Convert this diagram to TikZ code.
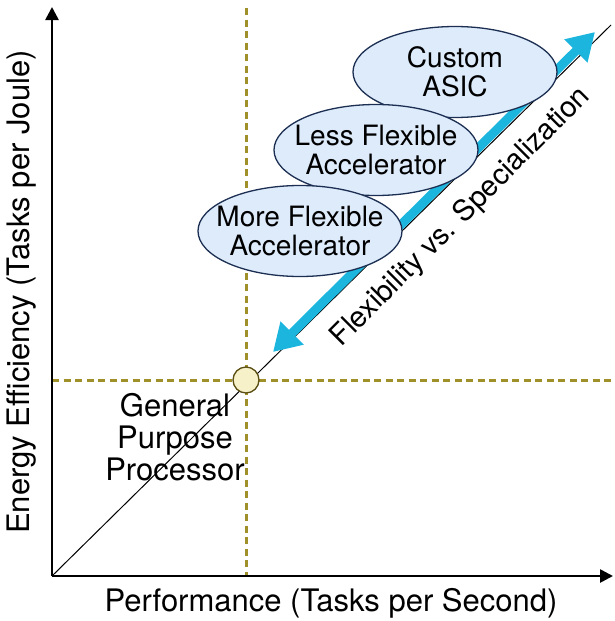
\documentclass[tikz,border=0pt]{standalone}
\usepackage{fontspec}
\setmainfont{TeX Gyre Heros}
\usetikzlibrary{arrows.meta,shapes.geometric}
\definecolor{guide}{HTML}{A0902A}
\definecolor{pointfill}{HTML}{F6F1C9}
\definecolor{pointline}{HTML}{5A4E12}
\definecolor{bubblefill}{HTML}{DDEBFB}
\definecolor{bubbleline}{HTML}{1C2F52}
\definecolor{spectrum}{HTML}{1CB5DE}
\begin{document}
\begin{tikzpicture}[x=1pt,y=-1pt,
  axis/.style={line width=2.6pt,-{Triangle[width=13pt,length=13pt]}},
  guideline/.style={guide,line width=3pt,dash pattern=on 7pt off 4.5pt},
  bubble/.style={ellipse,draw=bubbleline,line width=1.3pt,fill=bubblefill,
    minimum width=204pt,minimum height=91pt,inner sep=0pt},
  bubbletext/.style={align=center,inner sep=0pt,font=\fontsize{28}{29}\selectfont},
  biglabel/.style={font=\fontsize{31}{32}\selectfont,align=center},
  spectrumarrow/.style={spectrum,line width=9pt,
    {Triangle[width=31pt,length=27pt]}-{Triangle[width=31pt,length=27pt]}}]
\useasboundingbox (0,0) rectangle (614,621);

% reference points
\coordinate (o) at (52,576);
\coordinate (ytop) at (52,7);
\coordinate (xend) at (613,576);
\coordinate (vtop) at (246,8);
\coordinate (vbot) at (246,576);
\coordinate (hl) at (52,380);
\coordinate (hr) at (612,380);
\coordinate (diagend) at (611,25);
\coordinate (lowtip) at (273,352);
\coordinate (hightip) at (595,32);

% guide lines through the general purpose processor
\draw[guideline] (vtop) -- (vbot);
\draw[guideline] (hl) -- (hr);

% diagonal trend line
\draw[line width=1pt] (o) -- (diagend);

% flexibility versus specialization spectrum
\draw[spectrumarrow] (lowtip) -- (hightip);

% axes
\draw[axis] (o) -- (ytop);
\draw[axis] (o) -- (xend);

% the general purpose processor point
\node[circle,draw=pointline,fill=pointfill,line width=1.3pt,minimum size=26pt,inner sep=0pt] (gpp) at (246,380) {};

% accelerator bubbles
\node[bubble] (asic) at (455,72) {};
\node[bubbletext] (asictext) at (asic) {Custom\\ASIC};
\node[bubble] (less) at (376,150) {};
\node[bubbletext] (lesstext) at (less) {Less Flexible\\Accelerator};
\node[bubble] (more) at (300,231) {};
\node[bubbletext] (moretext) at (more) {More Flexible\\Accelerator};

% labels
\node[font=\fontsize{29}{30}\selectfont,rotate=45] (spec) at (461,217) {Flexibility vs. Specialization};
\node[biglabel] (gpplabel) at (175,437) {General\\Purpose\\Processor};
\node[biglabel] (xlabel) at (331,603) {Performance (Tasks per Second)};
\node[biglabel,rotate=90] (ylabel) at (22,292) {Energy Efficiency (Tasks per Joule)};
\end{tikzpicture}
\end{document}
